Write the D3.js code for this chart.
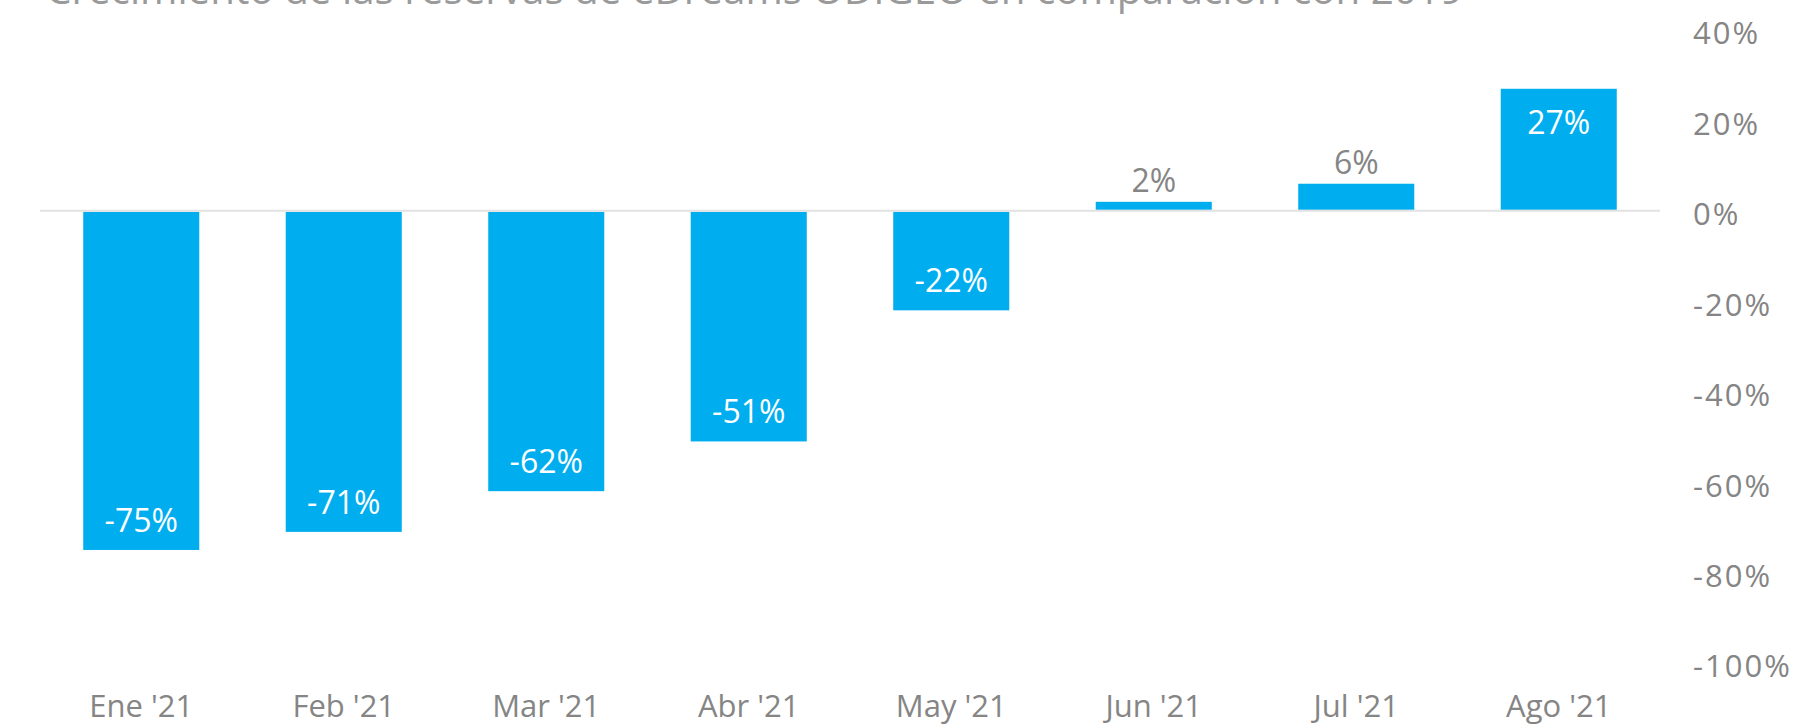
<!DOCTYPE html>
<html>
<head>
<meta charset="utf-8">
<script src="https://cdn.jsdelivr.net/npm/d3@7"></script>
<style>
  html, body { margin: 0; padding: 0; background: #ffffff; }
  svg { display: block; }
  text { font-family: "Open Sans", "Noto Sans", sans-serif; }
</style>
</head>
<body>
<svg id="chart" width="1808" height="727"></svg>
<script>
// Monthly booking growth vs 2019
const months = ["Ene '21", "Feb '21", "Mar '21", "Abr '21", "May '21", "Jun '21", "Jul '21", "Ago '21"];
const growth = [-75, -71, -62, -51, -22, 2, 6, 27];
const yTicks = [40, 20, 0, -20, -40, -60, -80, -100];
const title = "Crecimiento de las reservas de eDreams ODIGEO en comparación con 2019";

const W = 1808, H = 727;
const svg = d3.select("#chart");

const x = d3.scaleBand()
  .domain(months)
  .range([40, 1660])
  .paddingInner(0.427)
  .paddingOuter(0.2135);

const y = d3.scaleLinear()
  .domain([-100, 40])
  .range([663, 30]);

const BLUE = "#00aeef";
const GREY = "#858585";

// Title (runs off the top edge)
svg.append("text")
  .attr("x", 46)
  .attr("y", 4)
  .attr("fill", "#9a9a9a")
  .attr("font-size", 40)
  .attr("textLength", 1417)
  .attr("lengthAdjust", "spacingAndGlyphs")
  .text(title);

// Bars
svg.append("g").selectAll("rect")
  .data(growth)
  .join("rect")
  .attr("x", (d, i) => x(months[i]))
  .attr("width", x.bandwidth())
  .attr("y", d => d >= 0 ? y(d) : y(0) + 1)
  .attr("height", d => d >= 0 ? y(0) - y(d) - 1 : y(d) - y(0) - 1)
  .attr("fill", BLUE);

// Zero baseline
svg.append("line")
  .attr("x1", 40).attr("x2", 1660)
  .attr("y1", y(0)).attr("y2", y(0))
  .attr("stroke", "#e2e2e2")
  .attr("stroke-width", 2);

// Value labels: inside the bar when it is tall enough, above it otherwise
svg.append("g").selectAll("text")
  .data(growth)
  .join("text")
  .attr("x", (d, i) => x(months[i]) + x.bandwidth() / 2)
  .attr("y", d => {
    if (d < 0) return y(d) - 18;
    if (d >= 15) return y(d) + 45;
    return y(d) - 10;
  })
  .attr("text-anchor", "middle")
  .attr("font-size", 32)
  .attr("fill", d => (d < 0 || d >= 15) ? "#ffffff" : GREY)
  .text(d => d + "%");

// Right-hand percentage axis
const yAxis = d3.axisRight(y)
  .tickValues(yTicks)
  .tickSize(0)
  .tickPadding(0)
  .tickFormat(d => d + "%");

const gy = svg.append("g")
  .attr("transform", "translate(1693,0)")
  .call(yAxis);
gy.select(".domain").remove();
gy.selectAll("text")
  .attr("font-size", 31)
  .attr("fill", GREY)
  .attr("dy", "0.45em")
  .style("letter-spacing", "2px");

// Month labels along the bottom
svg.append("g").selectAll("text")
  .data(months)
  .join("text")
  .attr("x", d => x(d) + x.bandwidth() / 2)
  .attr("y", 717)
  .attr("text-anchor", "middle")
  .attr("font-size", 31)
  .attr("fill", GREY)
  .text(d => d);
</script>
</body>
</html>
